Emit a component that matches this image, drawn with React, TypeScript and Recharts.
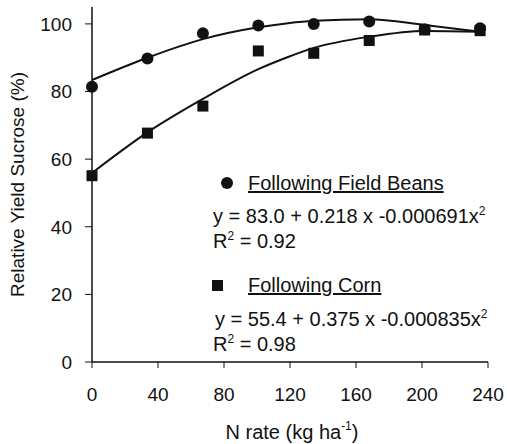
import { ComposedChart, Line, Scatter, XAxis, YAxis } from 'recharts';

// N rates (kg/ha) and measured relative yield (%)
const nRate = [0, 33.6, 67.2, 100.8, 134.4, 168, 201.6, 235.2];
const beansYield = [81.4, 89.8, 97.2, 99.5, 100, 100.7, 98.4, 98.7];
const cornYield = [55.1, 67.7, 75.7, 92.0, 91.3, 95.1, 98.2, 98.0];

// fitted curves
const fitRate = [0, 33.6, 67.2, 100.8, 118.8, 134.4, 168, 201.6, 235.2];
const beansFit = [83.4, 90.0, 95.5, 99.0, 100.2, 100.9, 101.4, 99.7, 97.7];
const cornFit = [55.9, 67.9, 77.8, 86.6, 90.2, 92.9, 96.2, 97.9, 97.7];

const xTicks = [0, 40, 80, 120, 160, 200, 240];
const yTicks = [0, 20, 40, 60, 80, 100];

const FONT = '"Liberation Sans", Arial, sans-serif';
const INK = '#111';

const toPoints = (xs: number[], ys: number[]) => xs.map((x, i) => ({ x, y: ys[i] }));

const beansPoints = toPoints(nRate, beansYield);
const cornPoints = toPoints(nRate, cornYield);
const beansCurve = toPoints(fitRate, beansFit);
const cornCurve = toPoints(fitRate, cornFit);

const Dot = (props: any) => <circle cx={props.cx} cy={props.cy} r={6} fill={INK} />;
const Box = (props: any) => (
  <rect x={props.cx - 5.5} y={props.cy - 5.5} width={11} height={11} fill={INK} />
);

const YTitle = (props: any) => {
  const vb = props.viewBox;
  const cy = vb.y + vb.height / 2;
  return (
    <text
      x={17}
      y={cy}
      transform={`rotate(-90 17 ${cy})`}
      textAnchor="middle"
      dominantBaseline="central"
      fontFamily={FONT}
      fontSize={19}
      fill={INK}
    >
      Relative Yield Sucrose (%)
    </text>
  );
};

const XTitle = (props: any) => {
  const vb = props.viewBox;
  const cx = vb.x + vb.width / 2 + 2;
  return (
    <text x={cx} y={439} textAnchor="middle" fontFamily={FONT} fontSize={20} fill={INK}>
      N rate (kg ha
      <tspan dy={-9} fontSize={12}>-1</tspan>
      <tspan dy={9}>)</tspan>
    </text>
  );
};

function Notes() {
  const t = { fontFamily: FONT, fontSize: 20, fill: INK };
  return (
    <svg width={507} height={444} style={{ position: 'absolute', left: 0, top: 0, pointerEvents: 'none' }}>
      <circle cx={227} cy={183} r={6} fill={INK} />
      <text x={248} y={190} {...t} textDecoration="underline">Following Field Beans</text>
      <text x={213} y={223} {...t}>
        y = 83.0 + 0.218 x -0.000691x<tspan dy={-8} fontSize={12}>2</tspan>
      </text>
      <text x={213} y={248} {...t}>
        R<tspan dy={-8} fontSize={12}>2</tspan><tspan dy={8}> = 0.92</tspan>
      </text>
      <rect x={212} y={280} width={11} height={11} fill={INK} />
      <text x={248} y={292} {...t} textDecoration="underline">Following Corn</text>
      <text x={215} y={326} {...t}>
        y = 55.4 + 0.375 x -0.000835x<tspan dy={-8} fontSize={12}>2</tspan>
      </text>
      <text x={213} y={351} {...t}>
        R<tspan dy={-8} fontSize={12}>2</tspan><tspan dy={8}> = 0.98</tspan>
      </text>
    </svg>
  );
}

export default function App() {
  const tick = { fontFamily: FONT, fontSize: 19, fill: INK };
  return (
    <div style={{ position: 'relative', width: 507, height: 444, background: '#fff' }}>
      <style>{'body{margin:0}'}</style>
      <ComposedChart width={507} height={444} margin={{ top: 7, right: 19, bottom: 0, left: 0 }}>
        <XAxis
          dataKey="x"
          type="number"
          domain={[0, 240]}
          ticks={xTicks}
          height={82}
          tick={tick}
          tickSize={6}
          tickMargin={20}
          axisLine={{ stroke: INK, strokeWidth: 1.5 }}
          tickLine={{ stroke: INK }}
          label={<XTitle />}
        />
        <YAxis
          dataKey="y"
          type="number"
          domain={[0, 105]}
          ticks={yTicks}
          width={92}
          tick={tick}
          tickSize={7}
          tickMargin={13}
          axisLine={{ stroke: INK, strokeWidth: 1.5 }}
          tickLine={{ stroke: INK }}
          label={<YTitle />}
        />
        <Line data={beansCurve} dataKey="y" type="monotone" stroke={INK} strokeWidth={2} dot={false} isAnimationActive={false} />
        <Line data={cornCurve} dataKey="y" type="monotone" stroke={INK} strokeWidth={2} dot={false} isAnimationActive={false} />
        <Scatter data={cornPoints} dataKey="y" shape={Box} isAnimationActive={false} />
        <Scatter data={beansPoints} dataKey="y" shape={Dot} isAnimationActive={false} />
      </ComposedChart>
      <Notes />
    </div>
  );
}
